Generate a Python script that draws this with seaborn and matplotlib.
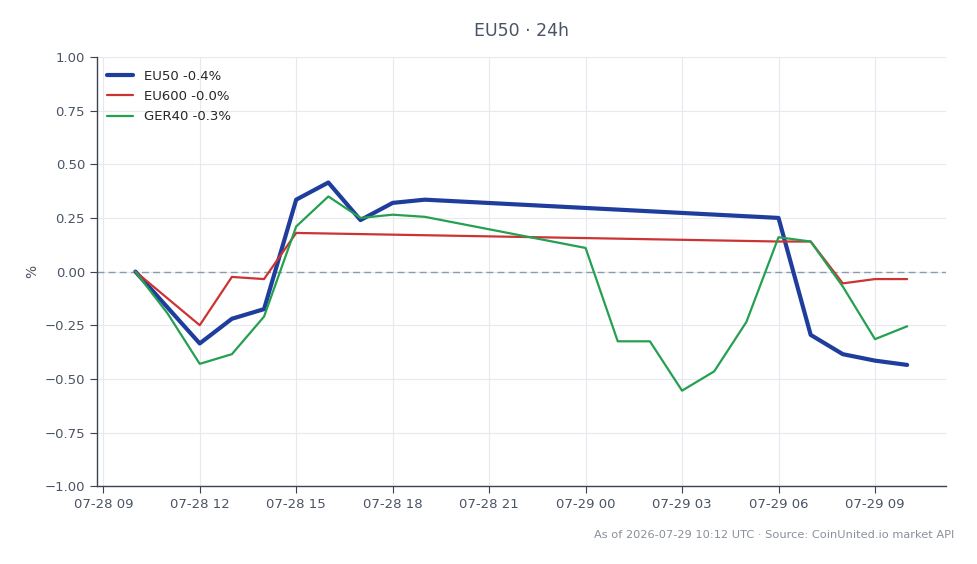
import pandas as pd
import matplotlib
matplotlib.use('Agg')
import matplotlib.pyplot as plt
import matplotlib.dates as mdates
from matplotlib.ticker import FuncFormatter
import seaborn as sns

sns.set_style('white')
plt.rcParams['font.family'] = ['DejaVu Sans']

# 数据
eu50_t = ['2026-07-28 10:00', '2026-07-28 12:00', '2026-07-28 13:00', '2026-07-28 14:00',
          '2026-07-28 15:00', '2026-07-28 16:00', '2026-07-28 17:00', '2026-07-28 18:00',
          '2026-07-28 19:00', '2026-07-29 06:00', '2026-07-29 07:00', '2026-07-29 08:00',
          '2026-07-29 09:00', '2026-07-29 10:00']
eu50_v = [0.0, -0.335, -0.22, -0.175, 0.335, 0.415, 0.24, 0.32, 0.335, 0.25,
          -0.295, -0.385, -0.415, -0.435]

eu600_t = ['2026-07-28 10:00', '2026-07-28 12:00', '2026-07-28 13:00', '2026-07-28 14:00',
           '2026-07-28 15:00', '2026-07-29 06:00', '2026-07-29 07:00', '2026-07-29 08:00',
           '2026-07-29 09:00', '2026-07-29 10:00']
eu600_v = [0.0, -0.25, -0.025, -0.035, 0.18, 0.14, 0.14, -0.055, -0.035, -0.035]

ger40_t = ['2026-07-28 10:00', '2026-07-28 11:00', '2026-07-28 12:00', '2026-07-28 13:00',
           '2026-07-28 14:00', '2026-07-28 15:00', '2026-07-28 16:00', '2026-07-28 17:00',
           '2026-07-28 18:00', '2026-07-28 19:00', '2026-07-29 00:00', '2026-07-29 01:00',
           '2026-07-29 02:00', '2026-07-29 03:00', '2026-07-29 04:00', '2026-07-29 05:00',
           '2026-07-29 06:00', '2026-07-29 07:00', '2026-07-29 08:00', '2026-07-29 09:00',
           '2026-07-29 10:00']
ger40_v = [0.0, -0.195, -0.43, -0.385, -0.21, 0.21, 0.35, 0.25, 0.265, 0.255, 0.11,
           -0.325, -0.325, -0.555, -0.465, -0.235, 0.16, 0.14, -0.07, -0.315, -0.255]

series = [
    ('EU50 -0.4%', eu50_t, eu50_v, '#1f3d9c', 3.0),
    ('EU600 -0.0%', eu600_t, eu600_v, '#cc3333', 1.6),
    ('GER40 -0.3%', ger40_t, ger40_v, '#24a050', 1.6),
]

text_c = '#4a5464'
fig, ax = plt.subplots(figsize=(9.78, 5.64), dpi=100)
fig.subplots_adjust(left=0.099, right=0.967, top=0.899, bottom=0.138)

for label, t, v, color, lw in series:
    d = pd.DataFrame({'t': pd.to_datetime(t), 'v': v})
    sns.lineplot(data=d, x='t', y='v', ax=ax, color=color, linewidth=lw, label=label, zorder=3)

ax.axhline(0, color='#8a9bb0', linestyle=(0, (5, 3)), linewidth=1.0, zorder=2)
ax.set_ylim(-1.0, 1.0)
ax.set_yticks([-1.0, -0.75, -0.5, -0.25, 0.0, 0.25, 0.5, 0.75, 1.0])
ax.yaxis.set_major_formatter(FuncFormatter(lambda v, p: f'{v:.2f}'.replace('-', '\u2212')))
ax.xaxis.set_major_locator(mdates.HourLocator(byhour=[0, 3, 6, 9, 12, 15, 18, 21]))
ax.xaxis.set_major_formatter(mdates.DateFormatter('%m-%d %H'))

ax.grid(True, color='#e6e9ee', linewidth=0.8, zorder=0)
ax.set_axisbelow(True)
for s in ['top', 'right']:
    ax.spines[s].set_visible(False)
for s in ['left', 'bottom']:
    ax.spines[s].set_color('#3b4252')
    ax.spines[s].set_linewidth(1.0)
ax.tick_params(axis='both', colors='#3b4252', labelcolor=text_c, labelsize=9.5,
               length=5, direction='out', bottom=True, left=True)

ax.set_xlabel('')
ax.set_ylabel('%', color=text_c, fontsize=10)
ax.set_title('EU50 · 24h', color=text_c, fontsize=12.5, pad=15)

ax.legend(loc='upper left', frameon=False, fontsize=9.5, handlelength=2.0,
          labelspacing=0.55, bbox_to_anchor=(-0.002, 0.998))

fig.text(0.976, 0.052, 'As of 2026-07-29 10:12 UTC · Source: CoinUnited.io market API',
         ha='right', va='center', fontsize=8.2, color='#8a909a')

fig.savefig('out.png', dpi=100)
plt.close(fig)
